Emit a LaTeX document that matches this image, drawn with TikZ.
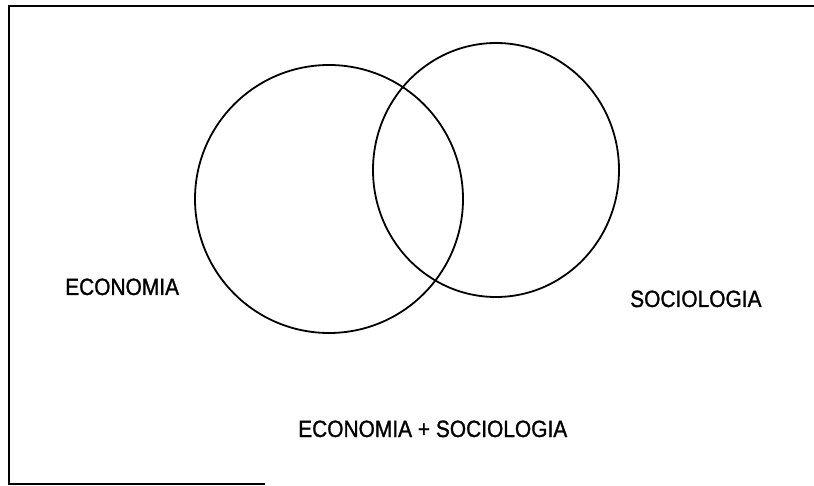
\documentclass[tikz,border=0pt]{standalone}
\usepackage{fontspec}
\setmainfont{Liberation Sans}
\newfontfamily\labelfont[FakeStretch=0.89, FakeBold=1.2]{Liberation Sans}
\usetikzlibrary{positioning, shapes.geometric}

\begin{document}
\begin{tikzpicture}[x=1pt, y=-1pt,
  setline/.style={draw=black, line width=1.8pt},
  framel/.style={draw=black, line width=2pt},
  lbl/.style={font=\labelfont\fontsize{23.5}{26}\selectfont, inner sep=0pt, anchor=base west}
]
\useasboundingbox (0,0) rectangle (814,486);

% frame (scanned, right side missing)
\draw[framel] (814,6) -- (9,6) -- (9,484) -- (265,484);

% sets
\node[setline, circle, minimum size=268pt, inner sep=0pt] (eco) at (329,199) {};
\node[setline, ellipse, minimum width=246pt, minimum height=254pt, inner sep=0pt] (soc) at (496,170) {};

% labels
\node[lbl] (ecol) at (65,295) {ECONOMIA};
\node[lbl] (socl) at (630,307) {SOCIOLOGIA};
\node[lbl] (both) at (298,437) {ECONOMIA + SOCIOLOGIA};

\end{tikzpicture}
\end{document}
